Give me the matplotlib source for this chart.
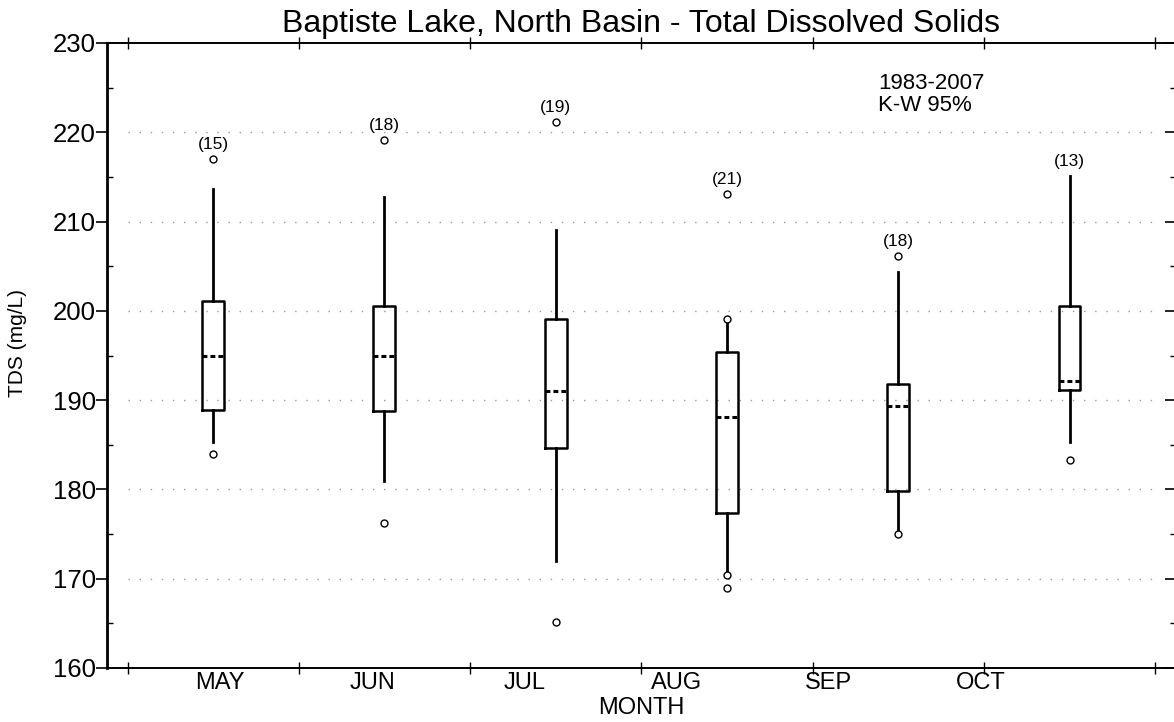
import matplotlib
matplotlib.use("Agg")
import matplotlib.pyplot as plt
import numpy as np
from matplotlib.ticker import MultipleLocator, FixedLocator, NullFormatter

plt.rcParams["font.family"] = ["Liberation Sans", "DejaVu Sans"]

months = ["MAY", "JUN", "JUL", "AUG", "SEP", "OCT"]
counts = [15, 18, 19, 21, 18, 13]
q1 = [188.9, 188.75, 184.6, 177.4, 179.8, 191.1]
median = [195.0, 195.0, 191.0, 188.1, 189.3, 192.1]
q3 = [201.1, 200.55, 199.1, 195.4, 191.8, 200.6]
whislo = [185.3, 181.0, 172.0, 170.8, 175.2, 185.3]
whishi = [213.6, 212.8, 209.1, 198.8, 204.3, 215.1]
fliers = [
    [217.0, 184.0],
    [219.1, 176.2],
    [221.1, 165.1],
    [213.1, 199.1, 170.4, 169.0],
    [206.1, 175.0],
    [183.3],
]

stats = []
for i in range(len(months)):
    stats.append(dict(label=months[i], med=median[i], q1=q1[i], q3=q3[i],
                      whislo=whislo[i], whishi=whishi[i], fliers=fliers[i]))

fig = plt.figure(figsize=(11.74, 7.22), dpi=100)
ax = fig.add_axes([107 / 1174, 54 / 722, 1068.7 / 1174, 625 / 722])

pos = np.arange(1, len(months) + 1)
ax.bxp(stats, positions=pos, widths=0.128, showcaps=False,
       boxprops=dict(color="black", linewidth=1.8),
       whiskerprops=dict(color="black", linewidth=2.0),
       medianprops=dict(color="black", linewidth=2.2, linestyle=(0, (1.6, 1.0))),
       flierprops=dict(marker="o", markersize=5, markerfacecolor="white",
                       markeredgecolor="black", markeredgewidth=1.0))

# sample counts above the highest point of each box
for i, n in enumerate(counts):
    top = max([whishi[i]] + fliers[i])
    ax.annotate(f"({n})", (pos[i], top), xytext=(0, 10.5), textcoords="offset points",
                ha="center", va="center", fontsize=12.5)

ax.set_xlim(0.38, 6.62)
ax.set_ylim(160, 230)

# dotted grid only over the month range
grid_y = np.arange(170, 230, 10)
ax.hlines(grid_y, 0.5, 6.5, colors="#9a9a9a", linewidth=1.0, linestyles=(0, (1, 7)), zorder=0)

ax.xaxis.set_major_locator(FixedLocator(np.arange(0.5, 7.0, 1.0)))
ax.xaxis.set_major_formatter(NullFormatter())
ax.xaxis.set_minor_locator(FixedLocator(np.linspace(1.04, 5.48, 6)))
ax.set_xticklabels(months, minor=True, fontsize=17)
ax.tick_params(axis="x", which="major", direction="inout", length=8, width=1,
               top=True, bottom=True)
ax.tick_params(axis="x", which="minor", length=0, pad=3)

ax.yaxis.set_major_locator(MultipleLocator(10))
ax.yaxis.set_minor_locator(MultipleLocator(5))
ax.tick_params(axis="y", which="major", direction="out", length=8, width=1.2, labelsize=18.5, pad=0)
ax.tick_params(axis="y", which="minor", direction="in", length=4, width=1)

# right-hand ticks point inward
ax2 = ax.twinx()
ax2.set_ylim(160, 230)
ax2.yaxis.set_major_locator(MultipleLocator(10))
ax2.yaxis.set_minor_locator(MultipleLocator(5))
ax2.tick_params(axis="y", which="major", direction="in", length=8, width=1.2, labelright=False)
ax2.tick_params(axis="y", which="minor", direction="in", length=4, width=1)
for s in ax2.spines.values():
    s.set_visible(False)

for s in ax.spines.values():
    s.set_linewidth(1.4)
ax.spines["left"].set_linewidth(2.0)

ax.set_title("Baptiste Lake, North Basin - Total Dissolved Solids", fontsize=23, pad=8)
ax.set_ylabel("TDS (mg/L)", fontsize=15)
ax.yaxis.set_label_coords(-0.075, 0.52)
ax.set_xlabel("MONTH", fontsize=17, va="center")
ax.xaxis.set_label_coords(0.5, -0.0635)

ax.text(0.7215, 0.9176, "1983-2007\nK-W 95%", transform=ax.transAxes, fontsize=16,
        ha="left", va="center", linespacing=1.1)

fig.savefig("out.png", dpi=100)
plt.close(fig)
